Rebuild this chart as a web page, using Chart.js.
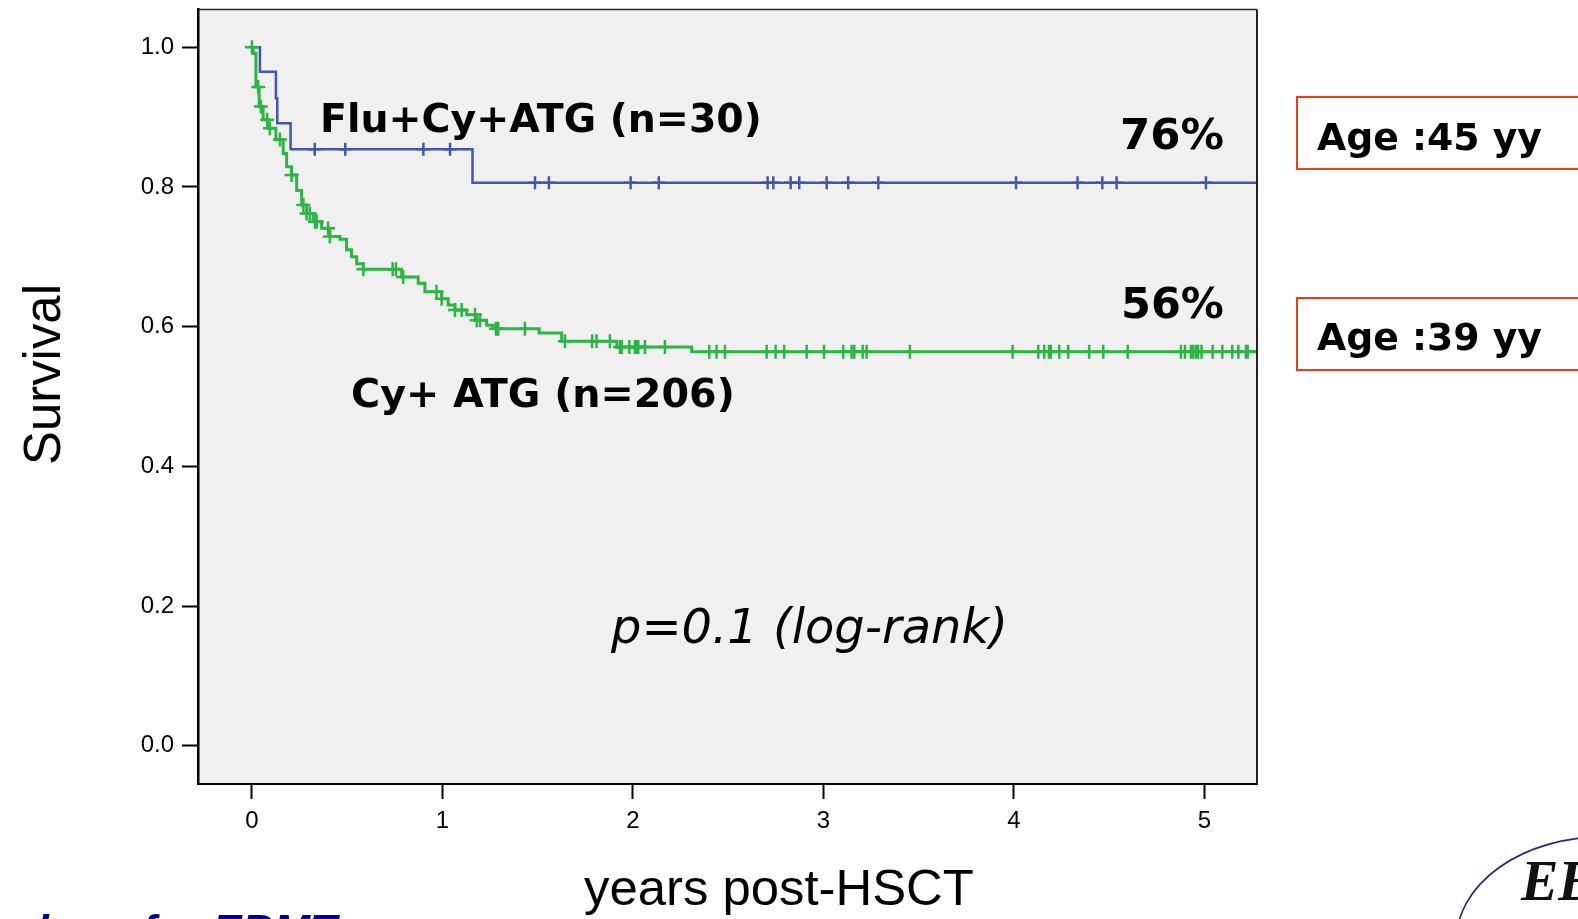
<!DOCTYPE html>
<html>
<head>
<meta charset="utf-8">
<script src="https://cdn.jsdelivr.net/npm/chart.js@4.4.1/dist/chart.umd.min.js"></script>
<style>
  html, body { margin: 0; padding: 0; background: #fff; }
  #wrap { width: 1578px; height: 919px; overflow: hidden; }
</style>
</head>
<body>
<div id="wrap"><canvas id="kmChart" width="1578" height="919"></canvas></div>
<script>
// Kaplan-Meier survival, years post-HSCT
const xTicks = [0, 1, 2, 3, 4, 5];
const yTicks = [0.0, 0.2, 0.4, 0.6, 0.8, 1.0];

// Flu+Cy+ATG (n=30): event times and survival after each event
const fluTimes = [0, 0.042, 0.126, 0.133, 0.203, 1.158, 5.3];
const fluSurv = [1.0, 0.965, 0.927, 0.891, 0.854, 0.806, 0.806];
const fluCensored = [0.33, 0.49, 0.90, 1.04, 1.486, 1.559, 1.988, 2.136, 2.707, 2.737,
    2.828, 2.873, 3.017, 3.130, 3.288, 4.011, 4.334, 4.464, 4.539, 5.008];

// Cy+ ATG (n=206)
const cyTimes = [0, 0.007, 0.021, 0.038, 0.059, 0.086, 0.126, 0.164, 0.182, 0.208, 0.235,
    0.261, 0.287, 0.322, 0.366, 0.409, 0.462, 0.497, 0.523, 0.550, 0.584, 0.786, 0.873,
    0.908, 0.996, 1.030, 1.066, 1.127, 1.180, 1.232, 1.267, 1.508, 1.626, 1.916, 2.308, 5.3];
const cySurv = [1.0, 0.991, 0.943, 0.915, 0.896, 0.884, 0.868, 0.848, 0.829, 0.817, 0.795,
    0.774, 0.762, 0.750, 0.741, 0.729, 0.725, 0.710, 0.700, 0.690, 0.682, 0.671, 0.662,
    0.650, 0.640, 0.631, 0.624, 0.617, 0.609, 0.602, 0.597, 0.591, 0.579, 0.571, 0.564, 0.564];
const cyCensored = [0.0, 0.033, 0.047, 0.08, 0.094, 0.147, 0.208, 0.27, 0.287, 0.304, 0.331,
    0.34, 0.40, 0.409, 0.585, 0.739, 0.756, 0.794, 0.969, 0.996, 1.066, 1.101, 1.171, 1.18,
    1.197, 1.281, 1.293, 1.433, 1.643, 1.786, 1.809, 1.879, 1.932, 1.941, 1.981, 2.011, 2.019,
    2.028, 2.063, 2.168, 2.401, 2.439, 2.483, 2.702, 2.749, 2.794, 2.912, 3.003, 3.104, 3.148,
    3.162, 3.206, 3.227, 3.454, 3.993, 4.128, 4.159, 4.184, 4.194, 4.238, 4.285, 4.395, 4.469,
    4.597, 4.877, 4.898, 4.929, 4.941, 4.955, 4.967, 4.985, 5.043, 5.094, 5.146, 5.178, 5.218,
    5.227, 5.281];

const BLUE = '#3f57b0';
const GREEN = '#2cb545';

// survival value in effect at time t (step function)
function survAt(times, surv, t) {
    let s = surv[0];
    for (let i = 0; i < times.length; i++) {
        if (times[i] <= t) s = surv[i];
    }
    return s;
}

const toPoints = (times, surv) => times.map((t, i) => ({ x: t, y: surv[i] }));
const toMarks = (cens, times, surv) => cens.map(t => ({ x: t, y: survAt(times, surv, t) }));

// draw text scaled so it spans the given width
function fitText(ctx, text, x, y, width, style, family, size) {
    ctx.font = `${style} ${size}px ${family}`;
    const w = ctx.measureText(text).width;
    const s = size * width / w;
    ctx.font = `${style} ${s}px ${family}`;
    ctx.fillText(text, x, y);
}

const decorPlugin = {
    id: 'decor',
    beforeDraw(chart) {
        const { ctx, chartArea: a } = chart;
        ctx.save();
        ctx.fillStyle = '#f0f0f0';
        ctx.fillRect(a.left, a.top, a.right - a.left, a.bottom - a.top);
        ctx.restore();
    },
    afterDraw(chart) {
        const { ctx, chartArea: a } = chart;
        ctx.save();
        // top and right frame
        ctx.strokeStyle = '#222';
        ctx.lineWidth = 1.5;
        ctx.beginPath();
        ctx.moveTo(a.left, a.top);
        ctx.lineTo(a.right, a.top);
        ctx.stroke();
        ctx.lineWidth = 2;
        ctx.beginPath();
        ctx.moveTo(a.right, a.top);
        ctx.lineTo(a.right, a.bottom);
        ctx.stroke();

        ctx.fillStyle = '#000';
        ctx.textBaseline = 'alphabetic';
        ctx.textAlign = 'left';
        const sans = '"DejaVu Sans", Verdana, sans-serif';
        fitText(ctx, 'Flu+Cy+ATG (n=30)', 320, 132, 442, 'bold', sans, 40);
        fitText(ctx, 'Cy+ ATG (n=206)', 351, 407, 384, 'bold', sans, 40);
        fitText(ctx, '76%', 1120, 149, 104, 'bold', sans, 44);
        fitText(ctx, '56%', 1121, 318, 103, 'bold', sans, 44);
        fitText(ctx, 'p=0.1 (log-rank)', 611, 643, 397, 'italic', sans, 44);

        // age boxes
        ctx.strokeStyle = '#f03a1c';
        ctx.lineWidth = 2;
        ctx.strokeRect(1297, 97, 300, 72);
        ctx.strokeRect(1297, 298, 300, 72);
        fitText(ctx, 'Age :45 yy', 1317, 150, 225, 'bold', sans, 40);
        fitText(ctx, 'Age :39 yy', 1317, 350, 225, 'bold', sans, 40);

        // axis titles
        const arial = '"Liberation Sans", Arial, sans-serif';
        fitText(ctx, 'years post-HSCT', 584, 905, 390, 'normal', arial, 52);
        ctx.save();
        ctx.translate(60, 465);
        ctx.rotate(-Math.PI / 2);
        fitText(ctx, 'Survival', 0, 0, 181, 'normal', arial, 52);
        ctx.restore();

        // footer credit, mostly cut off by the page edge
        ctx.fillStyle = '#000099';
        ctx.textAlign = 'right';
        ctx.font = 'bold italic 44px "Liberation Sans", Arial, sans-serif';
        ctx.fillText('Bacigalupo for EBMT', 337, 946);

        // EBMT logo corner
        ctx.strokeStyle = '#23237a';
        ctx.lineWidth = 1.6;
        ctx.beginPath();
        ctx.ellipse(1602, 942, 146, 105, 0, 0, Math.PI * 2);
        ctx.stroke();
        ctx.fillStyle = '#111';
        ctx.textAlign = 'left';
        ctx.font = 'italic bold 56px "Liberation Serif", "Times New Roman", serif';
        ctx.fillText('EBMT', 1521, 900);
        ctx.restore();
    }
};

const ctx = document.getElementById('kmChart');
new Chart(ctx, {
    type: 'line',
    data: {
        datasets: [
            {
                data: toPoints(cyTimes, cySurv),
                borderColor: GREEN,
                borderWidth: 3,
                stepped: true,
                pointRadius: 0,
                fill: false
            },
            {
                data: toMarks(cyCensored, cyTimes, cySurv),
                showLine: false,
                pointStyle: 'cross',
                pointRadius: 7,
                pointBorderWidth: 2.5,
                pointBorderColor: GREEN,
                borderColor: GREEN
            },
            {
                data: toPoints(fluTimes, fluSurv),
                borderColor: BLUE,
                borderWidth: 2.5,
                stepped: true,
                pointRadius: 0,
                fill: false
            },
            {
                data: toMarks(fluCensored, fluTimes, fluSurv),
                showLine: false,
                pointStyle: 'cross',
                pointRadius: 6.5,
                pointBorderWidth: 2.5,
                pointBorderColor: BLUE,
                borderColor: BLUE
            }
        ]
    },
    options: {
        responsive: false,
        animation: false,
        events: [],
        layout: { padding: { top: 8, right: 321, bottom: 0, left: 0 } },
        plugins: {
            legend: { display: false },
            tooltip: { enabled: false }
        },
        scales: {
            x: {
                type: 'linear',
                min: -0.283,
                max: 5.276,
                afterBuildTicks: s => { s.ticks = xTicks.map(v => ({ value: v })); },
                afterFit: s => { s.height = 135; s.paddingLeft = 0; s.paddingRight = 0; },
                grid: { drawOnChartArea: false, drawTicks: true, tickLength: 15, tickWidth: 2, tickColor: '#000' },
                border: { display: true, color: '#000', width: 2 },
                ticks: {
                    color: '#000',
                    padding: 8,
                    font: { family: '"Liberation Sans", Arial, sans-serif', size: 24 },
                    callback: v => String(v)
                }
            },
            y: {
                type: 'linear',
                min: -0.0547,
                max: 1.054,
                afterBuildTicks: s => { s.ticks = yTicks.map(v => ({ value: v })); },
                afterFit: s => { s.width = 198; s.paddingTop = 0; s.paddingBottom = 0; },
                grid: { drawOnChartArea: false, drawTicks: true, tickLength: 16, tickWidth: 2, tickColor: '#000' },
                border: { display: true, color: '#000', width: 2.5 },
                ticks: {
                    color: '#000',
                    padding: 8,
                    font: { family: '"Liberation Sans", Arial, sans-serif', size: 24 },
                    callback: v => Number(v).toFixed(1)
                }
            }
        }
    },
    plugins: [decorPlugin]
});
</script>
</body>
</html>
